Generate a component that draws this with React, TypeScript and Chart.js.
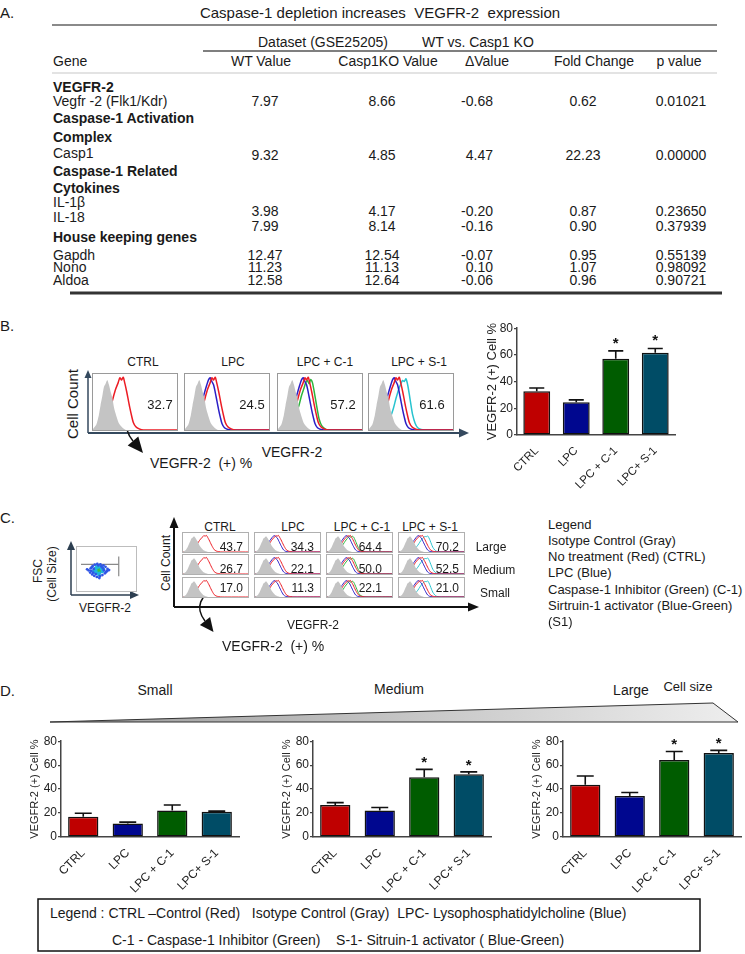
import React, { useEffect, useRef } from 'react';
import { Chart, registerables } from 'chart.js';

Chart.register(...registerables);

const FONT = '"Liberation Sans", Arial, Helvetica, sans-serif';
Chart.defaults.font.family = FONT;
Chart.defaults.color = '#222';

// ---------------- data: table (panel A) ----------------
const sectionTitles = ['VEGFR-2', 'Caspase-1 Activation', 'Complex', 'Caspase-1 Related', 'Cytokines', 'House keeping genes'];
const geneLabels = ['Vegfr -2 (Flk1/Kdr)', 'Casp1', 'IL-1β', 'IL-18', 'Gapdh', 'Nono', 'Aldoa'];
const wtValues = ['7.97', '9.32', '3.98', '7.99', '12.47', '11.23', '12.58'];
const koValues = ['8.66', '4.85', '4.17', '8.14', '12.54', '11.13', '12.64'];
const deltaValues = ['-0.68', '4.47', '-0.20', '-0.16', '-0.07', '0.10', '-0.06'];
const foldChanges = ['0.62', '22.23', '0.87', '0.90', '0.95', '1.07', '0.96'];
const pValues = ['0.01021', '0.00000', '0.23650', '0.37939', '0.55139', '0.98092', '0.90721'];

// ---------------- data: bar charts ----------------
const categories = ['CTRL', 'LPC', 'LPC + C-1', 'LPC+ S-1'];
const histTitles = ['CTRL', 'LPC', 'LPC + C-1', 'LPC + S-1'];
const barColors = ['#bf0000', '#00078f', '#005c00', '#004c66'];
const allValues = [32.7, 24.5, 57.2, 61.6];
const allErrors = [2.5, 1.8, 5.8, 3.2];
const smallValues = [17.0, 11.3, 22.1, 21.0];
const smallErrors = [2.8, 1.1, 4.6, 0.6];
const mediumValues = [26.7, 22.1, 50.0, 52.5];
const mediumErrors = [2.0, 2.5, 6.5, 1.9];
const largeValues = [43.7, 34.3, 64.4, 70.2];
const largeErrors = [7.3, 2.8, 7.0, 2.1];
const sigAll = [false, false, true, true];
const sigSmall = [false, false, false, false];
const yTicks = [0, 20, 40, 60, 80];

// ---------------- data: flow histograms (x: % of VEGFR-2 range, y: % of max count) ----------------
const curveIso = [[0, 2], [4, 10], [7, 28], [9, 46], [11, 62], [13, 80], [15, 86], [17, 93], [19, 84], [21, 71], [23, 60], [25, 42], [27, 30], [29, 20], [31, 12], [34, 6], [37, 2], [40, 0], [100, 0]];
const curveCtrl = [[0, 0], [6, 1], [10, 4], [14, 12], [18, 26], [21, 42], [24, 60], [27, 76], [30, 88], [32, 97], [34, 93], [36, 98], [38, 86], [40, 72], [42, 56], [44, 40], [46, 26], [48, 14], [51, 6], [55, 2], [60, 0], [100, 0]];
const curveLpc = [[0, 0], [5, 2], [9, 6], [13, 16], [17, 32], [20, 50], [23, 68], [26, 84], [28, 93], [30, 97], [32, 90], [34, 84], [36, 70], [38, 54], [40, 38], [42, 24], [44, 12], [47, 4], [51, 1], [55, 0], [100, 0]];
const curveC1 = [[0, 0], [8, 1], [13, 5], [17, 14], [21, 28], [25, 46], [28, 64], [31, 78], [33, 88], [35, 92], [37, 86], [39, 94], [41, 88], [43, 72], [45, 54], [47, 36], [49, 20], [52, 8], [56, 2], [60, 0], [100, 0]];
const curveS1 = [[0, 0], [12, 1], [17, 4], [21, 10], [25, 22], [29, 40], [32, 58], [35, 74], [38, 86], [40, 92], [42, 90], [44, 95], [46, 84], [48, 66], [50, 46], [52, 28], [55, 12], [58, 4], [62, 1], [66, 0], [100, 0]];
const curveColors = { ctrl: '#ec1c24', lpc: '#2b1fc6', c1: '#2db53c', s1: '#27c3cf' };
const curveData = { ctrl: curveCtrl, lpc: curveLpc, c1: curveC1, s1: curveS1 };
const columnCurves = [['ctrl'], ['ctrl', 'lpc'], ['ctrl', 'lpc', 'c1'], ['ctrl', 'lpc', 's1']];
const sizeRows = ['Large', 'Medium', 'Small'];

// ---------------- data: FSC vs VEGFR-2 dot plot ----------------
const dotsBlue = [[15, 46], [18, 40], [19, 52], [22, 35], [23, 58], [26, 31], [27, 62], [31, 28], [32, 64], [37, 30], [38, 63], [42, 33], [44, 60], [47, 38], [48, 56], [51, 44], [52, 50], [20, 45], [25, 50], [45, 46], [29, 36], [40, 57], [36, 25], [55, 47], [12, 49], [24, 40], [43, 52], [21, 55], [49, 42], [34, 60]];
const dotsCyan = [[25, 44], [28, 52], [30, 40], [33, 55], [36, 38], [40, 50], [42, 43], [29, 47], [38, 56], [26, 48], [44, 49], [35, 35], [31, 58], [41, 55], [27, 41]];
const dotsGreen = [[31, 46], [34, 51], [37, 45], [35, 42], [32, 50], [39, 48], [30, 44], [36, 54], [40, 46], [33, 41], [38, 52], [29, 50]];
const dotsYellow = [[34, 47], [36, 49], [33, 46], [35, 50]];
const gateH = [[0, 63], [74, 63]];
const gateV = [[74, 85], [74, 30]];

// ---------------- helpers ----------------
const toXY = (arr: number[][]) => arr.map(([x, y]) => ({ x, y }));

function T({ x, y, s = 13, b = false, a = 'l', r = false, c = '#1a1a1a', children }: any) {
  const tx = a === 'l' ? '0' : a === 'c' ? '-50%' : '-100%';
  return (
    <div
      style={{
        position: 'absolute',
        left: x,
        top: y,
        fontSize: s,
        fontWeight: b ? 700 : 400,
        lineHeight: 1,
        whiteSpace: 'pre',
        color: c,
        transform: r ? 'translate(-50%,-50%) rotate(-90deg)' : `translate(${tx},-50%)`,
      }}
    >
      {children}
    </div>
  );
}

function Hist({ x, y, w, h, keys, lw, border, ymax }: any) {
  const ref = useRef<HTMLCanvasElement>(null);
  useEffect(() => {
    const datasets: any[] = [
      { data: toXY(curveIso), borderWidth: 0, backgroundColor: '#c4c4c4', fill: 'origin', pointRadius: 0, tension: 0.2 },
    ];
    keys.forEach((k: string) =>
      datasets.push({ data: toXY((curveData as any)[k]), borderColor: (curveColors as any)[k], borderWidth: lw, fill: false, pointRadius: 0, tension: 0.25 })
    );
    const chart = new Chart(ref.current as HTMLCanvasElement, {
      type: 'line',
      data: { datasets },
      options: {
        responsive: false,
        animation: false,
        events: [],
        layout: { padding: 0 },
        plugins: { legend: { display: false }, tooltip: { enabled: false } },
        scales: {
          x: { type: 'linear', min: 0, max: 100, display: false },
          y: { min: 0, max: ymax, display: false },
        },
      },
    });
    return () => chart.destroy();
  }, []);
  return (
    <div style={{ position: 'absolute', left: x, top: y, width: w, height: h, border: `1px solid ${border}`, boxSizing: 'border-box', background: '#fff' }}>
      <canvas ref={ref} width={w - 2} height={h - 2} style={{ display: 'block' }} />
    </div>
  );
}

function DotPlot({ x, y, w, h }: any) {
  const ref = useRef<HTMLCanvasElement>(null);
  useEffect(() => {
    const dot = (d: number[][], color: string, r: number) => ({ type: 'scatter', data: toXY(d), pointRadius: r, pointBorderWidth: 0, pointBackgroundColor: color, showLine: false });
    const gate = (d: number[][]) => ({ type: 'line', data: toXY(d), borderColor: '#8a8a8a', borderWidth: 1.2, pointRadius: 0, fill: false });
    const chart = new Chart(ref.current as HTMLCanvasElement, {
      type: 'scatter',
      data: {
        datasets: [
          dot(dotsBlue, '#2f55e6', 1.4),
          dot(dotsCyan, '#1fb5dc', 1.8),
          dot(dotsGreen, '#3cc040', 2),
          dot(dotsYellow, '#e6de2c', 1.8),
          gate(gateH),
          gate(gateV),
        ] as any,
      },
      options: {
        responsive: false,
        animation: false,
        events: [],
        layout: { padding: 0 },
        plugins: { legend: { display: false }, tooltip: { enabled: false } },
        scales: {
          x: { type: 'linear', min: 0, max: 100, display: false },
          y: { min: 0, max: 100, display: false },
        },
      },
    });
    return () => chart.destroy();
  }, []);
  return (
    <div style={{ position: 'absolute', left: x, top: y, width: w, height: h, border: '1px solid #bdbdbd', boxSizing: 'border-box' }}>
      <canvas ref={ref} width={w - 2} height={h - 2} style={{ display: 'block' }} />
    </div>
  );
}

function BarPanel({ x, y, axisW, plotW, plotH, bottomH, padRight, values, errors, sig, tickSize, titleSize, labelSize, starSize, starLift }: any) {
  const ref = useRef<HTMLCanvasElement>(null);
  const padTop = 8;
  const W = axisW + plotW + padRight;
  const H = padTop + plotH + bottomH;
  useEffect(() => {
    const errPlugin = {
      id: 'errbars',
      afterDatasetsDraw(chart: any) {
        const ctx = chart.ctx;
        const ys = chart.scales.y;
        const meta = chart.getDatasetMeta(0);
        ctx.save();
        meta.data.forEach((bar: any, i: number) => {
          const top = ys.getPixelForValue(values[i]);
          const cap = ys.getPixelForValue(values[i] + errors[i]);
          const hw = bar.width * 0.28;
          ctx.strokeStyle = '#111';
          ctx.lineWidth = 1.6;
          ctx.beginPath();
          ctx.moveTo(bar.x, top);
          ctx.lineTo(bar.x, cap);
          ctx.moveTo(bar.x - hw, cap);
          ctx.lineTo(bar.x + hw, cap);
          ctx.stroke();
          if (sig[i]) {
            ctx.fillStyle = '#111';
            ctx.font = `bold ${starSize}px ${FONT}`;
            ctx.textAlign = 'center';
            ctx.textBaseline = 'alphabetic';
            ctx.fillText('*', bar.x, cap - starLift);
          }
        });
        ctx.restore();
      },
    };
    const chart = new Chart(ref.current as HTMLCanvasElement, {
      type: 'bar',
      data: {
        labels: categories,
        datasets: [
          {
            data: values,
            backgroundColor: barColors,
            borderColor: '#111',
            borderWidth: 1.5,
            borderSkipped: false,
            categoryPercentage: 1,
            barPercentage: 0.68,
          },
        ],
      },
      options: {
        responsive: false,
        animation: false,
        events: [],
        layout: { padding: { top: padTop, right: padRight, left: 0, bottom: 0 } },
        plugins: { legend: { display: false }, tooltip: { enabled: false } },
        scales: {
          x: {
            grid: { display: false },
            border: { display: true, color: '#444', width: 1.5 },
            ticks: { autoSkip: false, minRotation: 45, maxRotation: 45, padding: 1, color: '#222', font: { size: labelSize } },
            afterFit: (s: any) => {
              s.height = bottomH;
            },
          },
          y: {
            min: 0,
            max: 80,
            afterBuildTicks: (s: any) => {
              s.ticks = yTicks.map((v) => ({ value: v }));
            },
            ticks: { padding: 1, color: '#222', font: { size: tickSize } },
            grid: { drawOnChartArea: false, drawTicks: true, tickLength: 3, color: '#444', lineWidth: 1.2 },
            border: { display: true, color: '#444', width: 1.5 },
            title: { display: true, text: 'VEGFR-2 (+) Cell %', color: '#222', font: { size: titleSize }, padding: { top: 2, bottom: 0 } },
            afterFit: (s: any) => {
              s.width = axisW;
            },
          },
        },
      },
      plugins: [errPlugin],
    });
    return () => chart.destroy();
  }, []);
  return <canvas ref={ref} width={W} height={H} style={{ position: 'absolute', left: x, top: y, display: 'block' }} />;
}

// ---------------- layout ----------------
const tableSectionY = [87, 118, 137, 171, 188, 237];
const geneLabelY = [101, 153, 202, 217, 255, 267, 280];
const geneValueY = [101, 155, 211, 226, 255, 267, 280];
const bBoxX = [92, 184, 277, 368];
const bTitleX = [143, 233, 325, 419];
const bNumX = [160, 252, 343, 432];
const cCellX = [182, 254, 326, 398];
const cCellY = [532, 554, 577];
const cTitleX = [220, 293, 362, 430];
const cNumRight = [243, 314, 382, 459];
const cNumY = [547, 569, 588];
const cRowLabelX = [491, 494, 495];
const cRowLabelY = [547, 570, 593];
const cLegend = ['Legend', 'Isotype Control (Gray)', 'No treatment (Red) (CTRL)', 'LPC (Blue)', 'Caspase-1 Inhibitor (Green) (C-1)', 'Sirtruin-1 activator (Blue-Green)', '(S1)'];
const cLegendY = [524, 540, 556, 572, 589, 605, 621];

export default function App() {
  useEffect(() => {
    document.body.style.margin = '0';
    document.body.style.background = '#fff';
  }, []);
  const rowValues = [largeValues, mediumValues, smallValues];
  return (
    <div style={{ position: 'relative', width: 745, height: 954, overflow: 'hidden', fontFamily: FONT, background: '#fff', color: '#1a1a1a' }}>
      <svg width={745} height={954} style={{ position: 'absolute', left: 0, top: 0 }}>
        <defs>
          <linearGradient id="wedge" x1="0" y1="0" x2="1" y2="0">
            <stop offset="0" stopColor="#9a9a9a" />
            <stop offset="1" stopColor="#eeeeee" />
          </linearGradient>
        </defs>
        {/* table rules */}
        <line x1={52} y1={25} x2={717} y2={25} stroke="#8a8a8a" strokeWidth={2} />
        <line x1={203} y1={51} x2={717} y2={51} stroke="#555" strokeWidth={1.5} />
        <line x1={52} y1={73} x2={717} y2={73} stroke="#c8c8c8" strokeWidth={1.2} />
        <line x1={70} y1={293} x2={722} y2={293} stroke="#333" strokeWidth={3} />
        {/* panel B axes */}
        <line x1={88} y1={433} x2={88} y2={377} stroke="#34495e" strokeWidth={1.5} />
        <polygon points="88,370 84.5,378 91.5,378" fill="#34495e" />
        <line x1={88} y1={433} x2={460} y2={433} stroke="#34495e" strokeWidth={2} />
        <polygon points="469,433 459,428.5 459,437.5" fill="#34495e" />
        <path d="M146,406 C126,412 122,428 133,441" stroke="#111" strokeWidth={1.5} fill="none" />
        <polygon points="143,453 138.3,436.4 127.7,445.6" fill="#111" />
        {/* panel C dot plot axes */}
        <line x1={71} y1={595} x2={71} y2={549} stroke="#2c3e50" strokeWidth={1.5} />
        <polygon points="71,541 67,550 75,550" fill="#2c3e50" />
        <line x1={71} y1={595} x2={130} y2={595} stroke="#2c3e50" strokeWidth={1.5} />
        <polygon points="139,595 130,591 130,599" fill="#2c3e50" />
        {/* panel C grid axes */}
        <line x1={174} y1={607} x2={174} y2={526} stroke="#111" strokeWidth={2} />
        <polygon points="174,517 169.5,528 178.5,528" fill="#111" />
        <line x1={174} y1={607} x2={468} y2={607} stroke="#111" strokeWidth={2} />
        <polygon points="479,607 468,602.5 468,611.5" fill="#111" />
        <path d="M219,588 C199,594 195,608 205,621" stroke="#111" strokeWidth={1.5} fill="none" />
        <polygon points="213.5,632 210.1,617 199.9,625" fill="#111" />
        {/* panel D wedge */}
        <polygon points="50,722 713,703 738,722" fill="url(#wedge)" stroke="#333" strokeWidth={1} />
        {/* legend box */}
        <rect x={38} y={899} width={662} height={52} fill="none" stroke="#111" strokeWidth={1.5} />
      </svg>

      {/* ---------- Panel A ---------- */}
      <T x={0} y={12} s={15}>A.</T>
      <T x={380} y={12} s={15} a="c">{'Caspase-1 depletion increases  VEGFR-2  expression'}</T>
      <T x={258} y={42} s={14}>Dataset (GSE25205)</T>
      <T x={422} y={42} s={14}>WT vs. Casp1 KO</T>
      <T x={53} y={61} s={14}>Gene</T>
      <T x={261} y={61} s={14} a="c">WT Value</T>
      <T x={388} y={61} s={14} a="c">Casp1KO Value</T>
      <T x={487} y={61} s={14} a="c">ΔValue</T>
      <T x={594} y={61} s={14} a="c">Fold Change</T>
      <T x={679} y={61} s={14} a="c">p value</T>
      {sectionTitles.map((t, i) => (
        <T key={'s' + i} x={53} y={tableSectionY[i]} s={14} b>{t}</T>
      ))}
      {geneLabels.map((g, i) => (
        <React.Fragment key={'g' + i}>
          <T x={53} y={geneLabelY[i]} s={14}>{g}</T>
          <T x={265} y={geneValueY[i]} s={14} a="c">{wtValues[i]}</T>
          <T x={382} y={geneValueY[i]} s={14} a="c">{koValues[i]}</T>
          <T x={493} y={geneValueY[i]} s={14} a="r">{deltaValues[i]}</T>
          <T x={583} y={geneValueY[i]} s={14} a="c">{foldChanges[i]}</T>
          <T x={681} y={geneValueY[i]} s={14} a="c">{pValues[i]}</T>
        </React.Fragment>
      ))}

      {/* ---------- Panel B ---------- */}
      <T x={0} y={325} s={15}>B.</T>
      <T x={72} y={404} s={15} r>Cell Count</T>
      {histTitles.map((t, i) => (
        <T key={'bt' + i} x={bTitleX[i]} y={362} s={12} a="c">{t}</T>
      ))}
      {columnCurves.map((keys, i) => (
        <Hist key={'bh' + i} x={bBoxX[i]} y={373} w={86} h={58} keys={keys} lw={1.5} border="#9a9a9a" ymax={104} />
      ))}
      {allValues.map((v, i) => (
        <T key={'bn' + i} x={bNumX[i]} y={404} s={13} a="c">{v.toFixed(1)}</T>
      ))}
      <T x={292} y={452} s={14} a="c">VEGFR-2</T>
      <T x={150} y={463} s={14}>{'VEGFR-2  (+) %'}</T>
      <BarPanel x={483} y={320} axisW={34} plotW={158} plotH={107} bottomH={55} padRight={8} values={allValues} errors={allErrors} sig={sigAll} tickSize={12} titleSize={13} labelSize={11.5} starSize={15} starLift={3} />

      {/* ---------- Panel C ---------- */}
      <T x={0} y={517} s={15}>C.</T>
      <T x={38} y={571} s={12} r>FSC</T>
      <T x={52} y={574} s={12} r>(Cell Size)</T>
      <DotPlot x={76} y={546} w={61} h={46} />
      <T x={105} y={608} s={12} a="c">VEGFR-2</T>
      <T x={166} y={563} s={12} r>Cell Count</T>
      {histTitles.map((t, i) => (
        <T key={'ct' + i} x={cTitleX[i]} y={527} s={12} a="c">{t}</T>
      ))}
      {cCellY.map((cy, r) =>
        cCellX.map((cx, i) => (
          <Hist key={`ch${r}-${i}`} x={cx} y={cy} w={67} h={21} keys={columnCurves[i]} lw={1} border="#b0b0b0" ymax={112} />
        ))
      )}
      {rowValues.map((vals, r) =>
        vals.map((v, i) => (
          <T key={`cn${r}-${i}`} x={cNumRight[i]} y={cNumY[r]} s={12} a="r">{v.toFixed(1)}</T>
        ))
      )}
      {sizeRows.map((t, r) => (
        <T key={'cr' + r} x={cRowLabelX[r]} y={cRowLabelY[r]} s={12} a="c">{t}</T>
      ))}
      <T x={313} y={625} s={12} a="c">VEGFR-2</T>
      <T x={222} y={646} s={14}>{'VEGFR-2  (+) %'}</T>
      {cLegend.map((t, i) => (
        <T key={'cl' + i} x={548} y={cLegendY[i]} s={13}>{t}</T>
      ))}

      {/* ---------- Panel D ---------- */}
      <T x={0} y={690} s={15}>D.</T>
      <T x={155} y={690} s={14} a="c">Small</T>
      <T x={399} y={689} s={14} a="c">Medium</T>
      <T x={631} y={690} s={14} a="c">Large</T>
      <T x={688} y={686} s={13} a="c">Cell size</T>
      <BarPanel x={26} y={733} axisW={35} plotW={178} plotH={96} bottomH={56} padRight={4} values={smallValues} errors={smallErrors} sig={sigSmall} tickSize={12} titleSize={11} labelSize={12} starSize={15} starLift={2} />
      <BarPanel x={278} y={733} axisW={35} plotW={178} plotH={96} bottomH={56} padRight={4} values={mediumValues} errors={mediumErrors} sig={sigAll} tickSize={12} titleSize={11} labelSize={12} starSize={15} starLift={2} />
      <BarPanel x={528} y={733} axisW={35} plotW={178} plotH={96} bottomH={56} padRight={4} values={largeValues} errors={largeErrors} sig={sigAll} tickSize={12} titleSize={11} labelSize={12} starSize={15} starLift={2} />
      <T x={50} y={913} s={14}>{'Legend : CTRL –Control (Red)   Isotype Control (Gray)  LPC- Lysophosphatidylcholine (Blue)'}</T>
      <T x={112} y={940} s={14}>{'C-1 - Caspase-1 Inhibitor (Green)    S-1- Sitruin-1 activator ( Blue-Green)'}</T>
    </div>
  );
}
